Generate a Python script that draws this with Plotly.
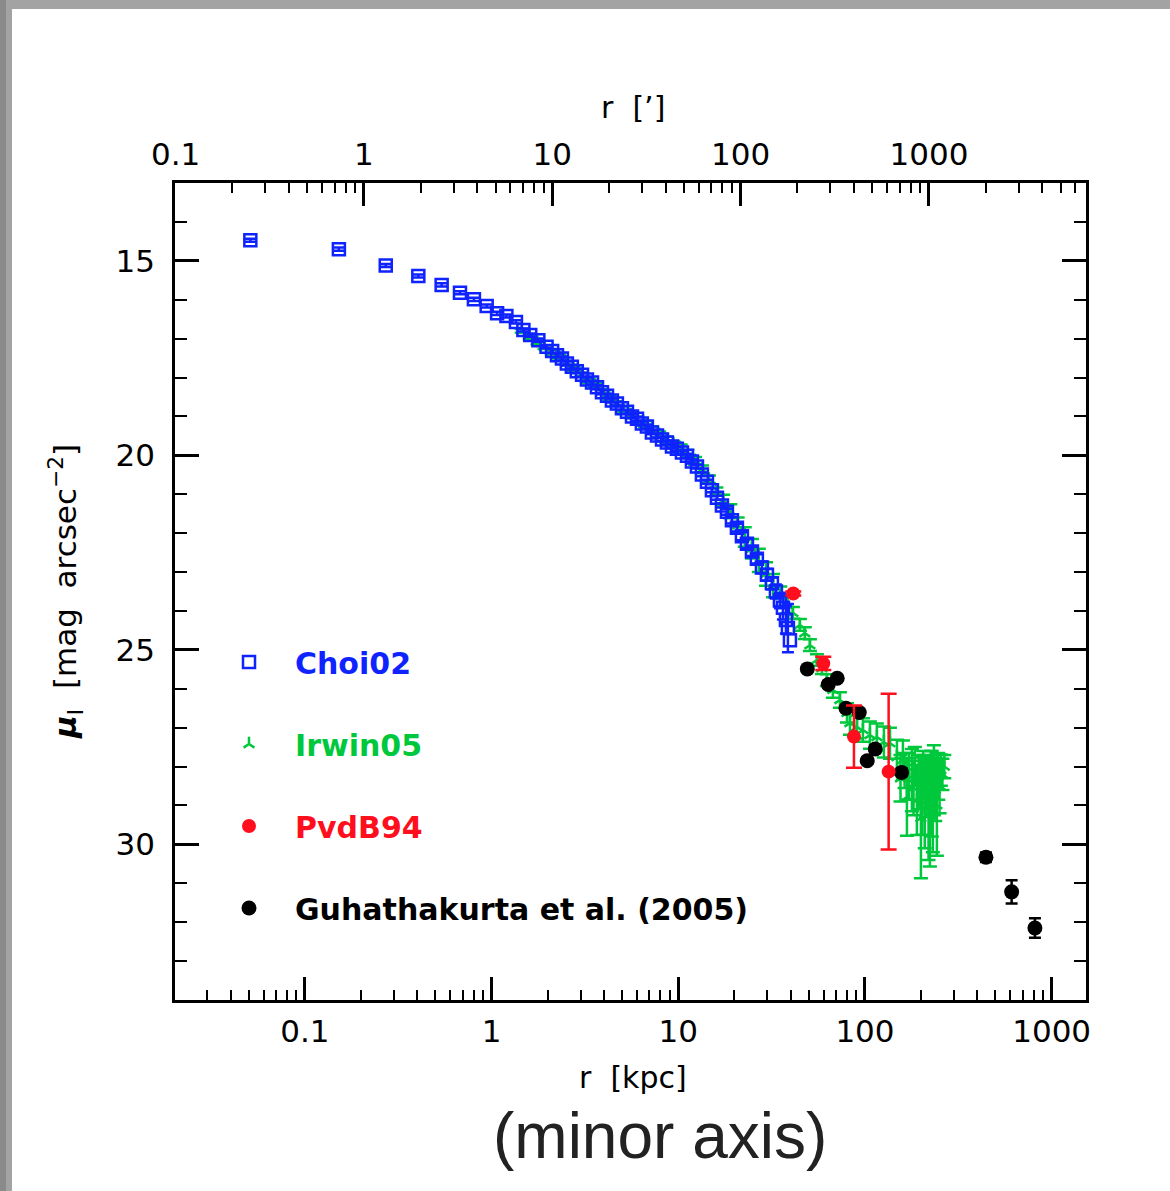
import plotly.graph_objects as go

# ---------------- data ----------------
choi_r = [0.051, 0.152, 0.271, 0.405, 0.540, 0.677, 0.804, 0.941, 1.07, 1.20, 1.35, 1.48, 1.61, 1.78, 1.97,
          2.11, 2.24, 2.38, 2.53, 2.69, 2.86, 3.05, 3.24, 3.45, 3.67, 3.90, 4.15, 4.41, 4.69, 4.99, 5.31,
          5.65, 6.01, 6.38, 6.79, 7.22, 7.69, 8.18, 8.69, 9.25, 9.83, 10.46, 11.13, 11.83, 12.59, 13.38,
          14.24, 15.14, 16.11, 17.13, 18.22, 19.38, 20.61, 21.92, 23.32, 24.80, 26.36, 28.05, 29.84,
          31.73, 33.34, 35.03, 36.35, 37.72, 38.66, 39.63]
choi_mu = [14.47, 14.70, 15.12, 15.39, 15.62, 15.82, 15.99, 16.16, 16.35, 16.42, 16.57, 16.78, 16.91, 17.04, 17.21,
           17.32, 17.43, 17.51, 17.64, 17.72, 17.84, 17.93, 18.05, 18.13, 18.25, 18.38, 18.47, 18.59, 18.67, 18.79, 18.88,
           19.00, 19.06, 19.18, 19.26, 19.41, 19.49, 19.59, 19.67, 19.77, 19.83, 19.93, 20.01, 20.16, 20.29, 20.49,
           20.68, 20.90, 21.09, 21.29, 21.45, 21.67, 21.86, 22.08, 22.27, 22.47, 22.66, 22.88, 23.07,
           23.29, 23.50, 23.73, 23.92, 24.23, 24.44, 24.75]
choi_err = [0.04] * 15 + [0.05] * 35 + [0.08, 0.08, 0.10, 0.10, 0.12, 0.12, 0.12, 0.15, 0.15, 0.15,
                                       0.18, 0.20, 0.30, 0.35, 0.62]

irwin_r = [1.45, 1.60, 1.76, 1.92, 2.10, 2.30, 2.52, 2.75, 3.00, 3.28, 3.58, 3.91, 4.27, 4.66, 5.09, 5.56,
           6.07, 6.63, 7.24, 7.90, 8.63, 9.42, 10.3, 11.2, 12.3, 13.4, 14.6, 16.0, 17.4, 19.0, 20.8, 22.7,
           24.8, 27.0, 29.5, 32.2, 35.2, 38.4, 41.1, 44.8, 47.6, 50.7, 55.3, 58.8, 62.5, 67.3, 73.4, 80.1,
           83.1, 90.6, 97.5, 106.3, 115.8, 126.3, 136.1, 148.3, 155.0, 159.7,
           163.0, 167.8, 172.0, 178.4, 182.0, 185.0, 189.7, 194.0, 199.4, 203.0, 205.0, 209.0, 212.0,
           216.0, 219.0, 222.7, 225.0, 228.0, 231.0, 234.0, 238.0, 242.8, 247.0, 251.0, 255.0, 260.0, 266.0]
irwin_mu = [16.80, 16.96, 17.10, 17.22, 17.35, 17.46, 17.62, 17.78, 17.93, 18.08, 18.20, 18.35, 18.52, 18.66,
            18.82, 18.96, 19.09, 19.20, 19.33, 19.47, 19.60, 19.71, 19.82, 19.96, 20.14, 20.36, 20.62, 20.93,
            21.16, 21.44, 21.80, 22.10, 22.40, 22.70, 23.05, 23.35, 23.62, 23.85, 24.05, 24.36, 24.57, 24.88,
            25.26, 25.47, 25.78, 26.03, 26.29, 26.62, 26.88, 26.98, 27.06, 27.19, 27.24, 27.37, 27.40, 27.76,
            28.30, 27.83,
            28.10, 28.78, 28.25, 28.35, 28.55, 28.00, 28.86, 28.40, 29.32, 28.75, 28.20, 28.90, 28.60,
            28.45, 29.10, 29.17, 28.30, 28.70, 29.00, 28.35, 28.60, 28.99, 28.25, 28.50, 28.09, 28.20, 28.00]
irwin_err = [0.05] * 14 + [0.08] * 8 + [0.10] * 6 + [
    0.15, 0.18, 0.20, 0.25, 0.25, 0.30, 0.30, 0.30, 0.25, 0.20, 0.15, 0.15, 0.15,
    0.15, 0.15, 0.15, 0.15, 0.20, 0.20, 0.25, 0.30, 0.30, 0.30, 0.35, 0.35, 0.40,
    0.40, 0.45, 0.60, 0.50,
    0.45, 1.00, 0.60, 0.80, 0.70, 0.50, 0.90, 0.70, 1.55, 1.00, 0.60, 1.20, 0.70,
    0.60, 1.30, 1.40, 0.70, 1.10, 1.20, 0.90, 0.80, 1.30, 0.60, 0.70, 0.40, 0.40, 0.30]

pvdb_r = [41.3, 59.8, 87.3, 133.9]
pvdb_mu = [23.55, 25.35, 27.23, 28.13]
pvdb_err = [0.05, 0.17, 0.80, 2.00]

guha_r = [49.1, 63.6, 71.0, 79.1, 93.2, 102.8, 113.5, 157.1, 444.6, 610.3, 813.4]
guha_mu = [25.49, 25.89, 25.73, 26.50, 26.61, 27.85, 27.55, 28.15, 30.33, 31.22, 32.15]
guha_err = [0.06, 0.08, 0.06, 0.08, 0.08, 0.08, 0.10, 0.10, 0.12, 0.30, 0.25]

series_names = ["Choi02", "Irwin05", "PvdB94", "Guhathakurta et al. (2005)"]
colors = ["#0f23ff", "#00c83c", "#ff0f1e", "#000000"]

kpc_tickvals = [0.1, 1, 10, 100, 1000]
kpc_ticktext = ["0.1", "1", "10", "100", "1000"]
arcmin_tickvals = [0.1, 1, 10, 100, 1000]
arcmin_ticktext = ["0.1", "1", "10", "100", "1000"]
mu_tickvals = [15, 20, 25, 30]
mu_ticktext = ["15", "20", "25", "30"]

FONT = "DejaVu Sans"

def lname(i):
    return f'<span style="color:{colors[i]}">{series_names[i]}</span>'

fig = go.Figure()

fig.add_trace(go.Scatter(
    x=irwin_r, y=irwin_mu, mode="markers", name=lname(1), legendrank=2, legendgroup="g2",
    marker=dict(symbol="y-up-open", size=9, color=colors[1], line=dict(color=colors[1], width=2.5)),
    error_y=dict(type="data", array=irwin_err, color=colors[1], thickness=2.5, width=7),
))
fig.add_trace(go.Scatter(
    x=choi_r, y=choi_mu, mode="markers", name=lname(0), legendrank=1, legendgroup="g1",
    marker=dict(symbol="square-open", size=12, color=colors[0], line=dict(color=colors[0], width=2.5)),
    error_y=dict(type="data", array=choi_err, color=colors[0], thickness=2.5, width=6),
))
fig.add_trace(go.Scatter(
    x=guha_r, y=guha_mu, mode="markers", name=lname(3), legendrank=4, legendgroup="g4",
    marker=dict(symbol="circle", size=15, color=colors[3]),
    error_y=dict(type="data", array=guha_err, color=colors[3], thickness=2.5, width=6),
))
fig.add_trace(go.Scatter(
    x=pvdb_r, y=pvdb_mu, mode="markers", name=lname(2), legendrank=3, legendgroup="g3",
    marker=dict(symbol="circle", size=14, color=colors[2]),
    error_y=dict(type="data", array=pvdb_err, color=colors[2], thickness=2.5, width=8),
))
# empty trace to instantiate the top (arcmin) axis
fig.add_trace(go.Scatter(x=[], y=[], xaxis="x2", yaxis="y", showlegend=False, hoverinfo="skip"))

L, R, T, B = 175, 1086, 183, 1000
W, H = 1170, 1191

def px_x(px):
    return (px - L) / (R - L)

def px_y(py):
    return (B - py) / (B - T)

tickfont = dict(family=FONT, size=31, color="black")

fig.update_layout(
    width=W, height=H,
    margin=dict(l=L, r=W - R, t=T, b=H - B, pad=0),
    paper_bgcolor="#a3a3a3",
    plot_bgcolor="rgba(0,0,0,0)",
    showlegend=True,
    legend=dict(
        x=px_x(203), y=px_y(636), xanchor="left", yanchor="top",
        font=dict(family=FONT, size=30, weight="bold"),
        bgcolor="rgba(0,0,0,0)", borderwidth=0,
        tracegroupgap=40, itemwidth=82, traceorder="grouped",
    ),
    xaxis=dict(
        type="log", range=[-1.696, 3.184], showgrid=False, zeroline=False,
        showline=True, linecolor="black", linewidth=2.5, mirror=False,
        ticks="inside", ticklen=23, tickwidth=2.5, tickcolor="black",
        tickmode="array", tickvals=kpc_tickvals, ticktext=kpc_ticktext,
        tickfont=tickfont, ticklabelstandoff=2,
        minor=dict(ticks="inside", ticklen=10, tickwidth=2, tickcolor="black", dtick="D1", showgrid=False),
    ),
    xaxis2=dict(
        type="log", range=[-1.003, 3.834], overlaying="x", side="top", anchor="y",
        showgrid=False, zeroline=False,
        showline=True, linecolor="black", linewidth=2.5,
        ticks="inside", ticklen=23, tickwidth=2.5, tickcolor="black",
        tickmode="array", tickvals=arcmin_tickvals, ticktext=arcmin_ticktext,
        tickfont=tickfont, ticklabelstandoff=3,
        minor=dict(ticks="inside", ticklen=10, tickwidth=2, tickcolor="black", dtick="D1", showgrid=False),
    ),
    yaxis=dict(
        range=[34, 13], showgrid=False, zeroline=False,
        showline=True, linecolor="black", linewidth=2.5, mirror="ticks",
        ticks="inside", ticklen=24, tickwidth=2.5, tickcolor="black",
        tickmode="array", tickvals=mu_tickvals, ticktext=mu_ticktext,
        tickfont=tickfont, ticklabelstandoff=11,
        minor=dict(ticks="inside", ticklen=12, tickwidth=2, tickcolor="black", dtick=1, tick0=0, showgrid=False),
    ),
    shapes=[
        dict(type="rect", xref="paper", yref="paper", layer="below",
             x0=px_x(12), x1=px_x(1180), y0=px_y(1200), y1=px_y(9),
             fillcolor="white", line=dict(width=0)),
        dict(type="rect", xref="paper", yref="paper", layer="below",
             x0=px_x(-5), x1=px_x(6), y0=px_y(1200), y1=px_y(-5),
             fillcolor="#8a8a8a", line=dict(width=0)),
    ],
    annotations=[
        dict(text="r  [kpc]", xref="paper", yref="paper", x=px_x(633), y=px_y(1077),
             showarrow=False, font=dict(family=FONT, size=30, color="black"), xanchor="center", yanchor="middle"),
        dict(text="r  [’]", xref="paper", yref="paper", x=px_x(633), y=px_y(107),
             showarrow=False, font=dict(family=FONT, size=30, color="black"), xanchor="center", yanchor="middle"),
        dict(text="<b><i>μ</i></b><sub>I</sub>  [mag  arcsec<sup>−2</sup>]", xref="paper", yref="paper",
             x=px_x(65), y=px_y(592), textangle=-90,
             showarrow=False, font=dict(family=FONT, size=31, color="black"), xanchor="center", yanchor="middle"),
        dict(text="(minor axis)", xref="paper", yref="paper", x=px_x(660), y=px_y(1136),
             showarrow=False, font=dict(family="Liberation Sans", size=64, color="#222222"),
             xanchor="center", yanchor="middle"),
    ],
)

fig.write_html("out.html", config={"displayModeBar": False},
               post_script="document.body.style.margin='0px';document.body.style.padding='0px';")
